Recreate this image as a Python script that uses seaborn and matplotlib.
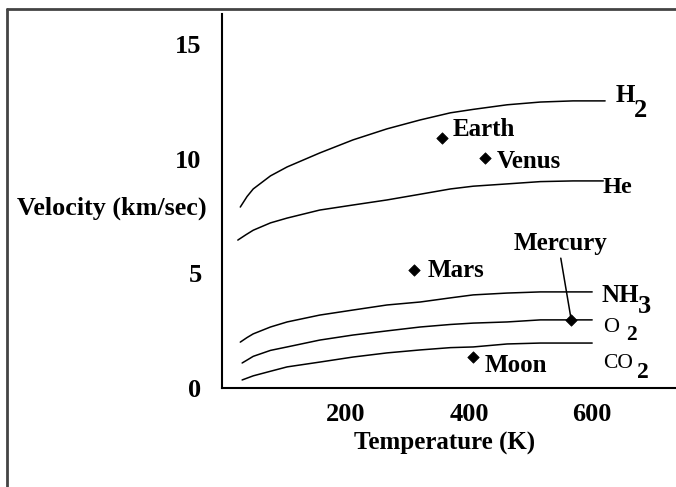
import pandas as pd
import seaborn as sns
import matplotlib.pyplot as plt
from matplotlib.lines import Line2D

# escape-velocity style curves: temperature (K) vs velocity (km/sec)
t_h2 = [29, 40, 50, 78, 105, 158, 212, 267, 321, 370, 407, 462, 516, 569, 621]
v_h2 = [7.89, 8.35, 8.68, 9.25, 9.64, 10.25, 10.82, 11.30, 11.69, 12.0, 12.15, 12.35, 12.47, 12.52, 12.52]

t_he = [25, 38, 50, 78, 105, 158, 212, 267, 321, 370, 407, 462, 516, 569, 618]
v_he = [6.45, 6.68, 6.88, 7.2, 7.41, 7.76, 7.98, 8.20, 8.45, 8.68, 8.80, 8.90, 9.0, 9.03, 9.03]

t_nh3 = [29, 40, 50, 78, 105, 158, 212, 267, 321, 370, 407, 462, 516, 600]
v_nh3 = [2.0, 2.2, 2.36, 2.66, 2.88, 3.18, 3.40, 3.62, 3.75, 3.93, 4.06, 4.14, 4.19, 4.19]

t_o2 = [32, 42, 50, 78, 105, 158, 212, 267, 321, 370, 407, 462, 516, 600]
v_o2 = [1.09, 1.25, 1.38, 1.64, 1.79, 2.09, 2.31, 2.49, 2.66, 2.77, 2.83, 2.88, 2.97, 2.97]

t_co2 = [32, 42, 50, 78, 105, 158, 212, 267, 321, 370, 407, 462, 516, 600]
v_co2 = [0.35, 0.45, 0.53, 0.73, 0.92, 1.13, 1.35, 1.53, 1.66, 1.76, 1.79, 1.92, 1.96, 1.96]

planets = ["Earth", "Venus", "Mars", "Mercury", "Moon"]
planet_t = [356.5, 426, 311, 566, 407]
planet_v = [10.9, 10.03, 5.15, 2.97, 1.35]

sns.set_theme(style="white")
plt.rcParams["font.family"] = ["Liberation Serif", "DejaVu Serif"]
plt.rcParams["font.weight"] = "bold"
plt.rcParams["text.color"] = "black"
plt.rcParams["axes.labelcolor"] = "black"
plt.rcParams["axes.labelweight"] = "bold"

curves = {"H2": (t_h2, v_h2), "He": (t_he, v_he), "NH3": (t_nh3, v_nh3),
          "O2": (t_o2, v_o2), "CO2": (t_co2, v_co2)}
df = pd.concat([pd.DataFrame({"T": t, "v": v, "gas": g}) for g, (t, v) in curves.items()])
pts = pd.DataFrame({"name": planets, "T": planet_t, "v": planet_v})

fig = plt.figure(figsize=(6.76, 4.87), dpi=100)
ax = fig.add_axes([0.329, 0.2033, 0.671, 0.768])

sns.lineplot(data=df, x="T", y="v", units="gas", estimator=None, sort=False,
             color="black", lw=1.1, ax=ax)
sns.scatterplot(data=pts, x="T", y="v", marker="D", color="black", s=34,
                edgecolor="black", linewidth=0.5, ax=ax, zorder=5)

# planet labels, offsets in pixels from the point
offs = {"Earth": (11, 2), "Venus": (12, -10), "Mars": (14, -7), "Moon": (11, -15)}
for name, t, v in zip(planets, planet_t, planet_v):
    if name == "Mercury":
        ax.annotate(name, xy=(t, v), xytext=(-11, 70), textcoords="offset pixels",
                    ha="center", va="baseline", fontsize=18,
                    arrowprops=dict(arrowstyle="-", color="black", lw=1.1,
                                    shrinkA=0, shrinkB=3, relpos=(0.5, 0)))
    else:
        ax.annotate(name, xy=(t, v), xytext=offs[name], textcoords="offset pixels",
                    ha="left", va="baseline", fontsize=18)

# gas labels at the end of each curve (main text, subscript)
gas_labels = {
    "H2": [("H", (10, -1), 18, "bold"), ("2", (29, -16), 19, "bold")],
    "He": [("He", (-1, -12), 17.5, "bold")],
    "NH3": [("NH", (9, -10), 18, "bold"), ("3", (46, -21), 19, "bold")],
    "O2": [("O", (11, -12), 16, "normal"), ("2", (34, -20), 15.5, "bold")],
    "CO2": [("CO", (11, -25), 15.5, "normal"), ("2", (45, -35), 17, "bold")],
}
for g, parts in gas_labels.items():
    t, v = curves[g]
    for txt, off, fs, fw in parts:
        ax.annotate(txt, xy=(t[-1], v[-1]), xytext=off, textcoords="offset pixels",
                    ha="left", va="baseline", fontsize=fs, fontweight=fw)

ax.set_xlim(0, 736)
ax.set_ylim(0, 16.31)
ax.set_xticks([200, 400, 600])
ax.set_xticks([100, 300, 500], minor=True)
ax.set_yticks([0, 5, 10, 15])
ax.tick_params(axis="x", which="both", direction="in", length=14.4, width=1.2,
               pad=10.5, labelsize=19, colors="black")
ax.tick_params(axis="y", direction="in", length=5.8, width=1.5, pad=15,
               labelsize=19, colors="black")
for tk in ax.yaxis.get_major_ticks():
    if tk.get_loc() == 10:
        tk.tick1line.set_markersize(15)

for s in ["top", "right"]:
    ax.spines[s].set_visible(False)
for s in ["left", "bottom"]:
    ax.spines[s].set_linewidth(1.5)
    ax.spines[s].set_color("black")

ax.set_xlabel("Temperature (K)", fontsize=18, fontweight="bold", va="top")
ax.xaxis.set_label_coords(0.4907, -0.1176)
ax.set_ylabel("Velocity (km/sec)", fontsize=18.8, fontweight="bold",
              rotation=0, ha="right", va="baseline")
ax.yaxis.set_label_coords(-0.034, 0.4626)

# outer frame (top and left edges)
fig.add_artist(Line2D([7 / 676, 1], [1 - 9 / 487] * 2, transform=fig.transFigure,
                      color="#444444", lw=2))
fig.add_artist(Line2D([7 / 676] * 2, [0, 1 - 9 / 487], transform=fig.transFigure,
                      color="#444444", lw=2))

fig.savefig("out.png", dpi=100)
